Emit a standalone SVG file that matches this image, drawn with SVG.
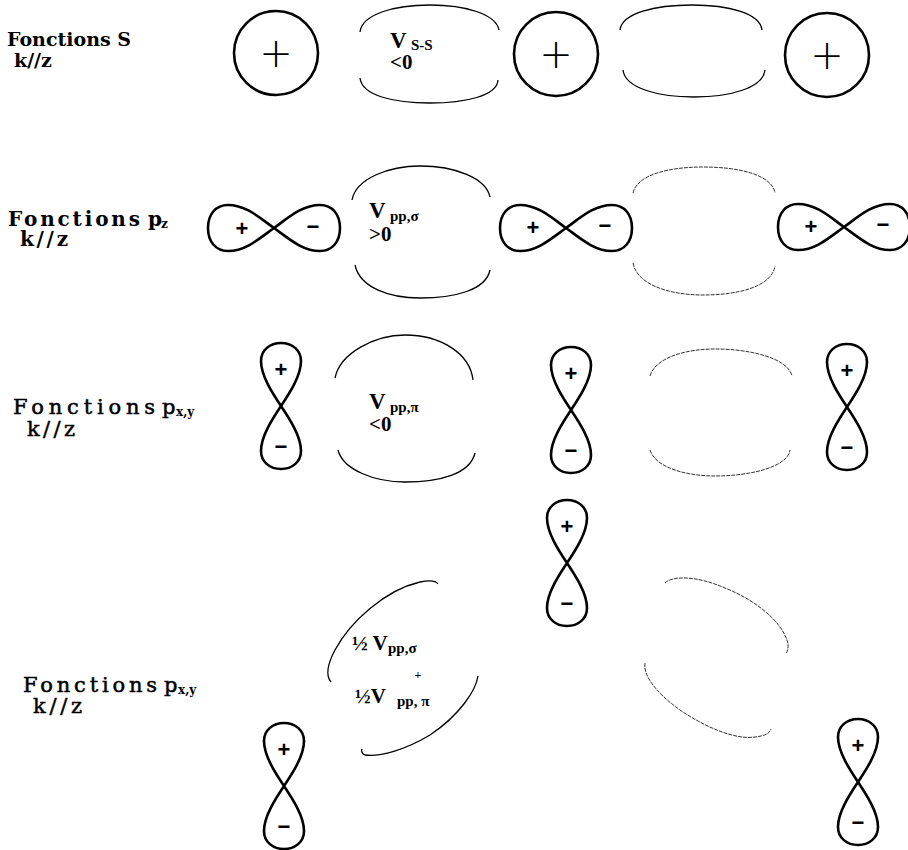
<svg xmlns="http://www.w3.org/2000/svg" xmlns:xlink="http://www.w3.org/1999/xlink" width="908" height="850" viewBox="0 0 908 850">
<style>
.lbl{font-family:"DejaVu Serif","Liberation Serif",serif;font-weight:bold;fill:#000}
.lblr{font-family:"DejaVu Serif","Liberation Serif",serif;font-weight:normal;fill:#000;stroke:#000;stroke-width:0.5}
.v{font-family:"Liberation Serif","Times New Roman",serif;font-weight:bold;fill:#000}
.orb{fill:none;stroke:#000;stroke-width:2.6}
.arc{fill:none;stroke:#000;stroke-width:1.3}
.arcd{fill:none;stroke:#333;stroke-width:1;stroke-dasharray:4 1}
.sgn{font-family:"Liberation Sans",Arial,sans-serif;font-weight:bold;font-size:22px;fill:#000;text-anchor:middle}
.big{font-family:"DejaVu Sans","Liberation Sans",sans-serif;font-weight:300;font-size:40px;fill:#000;text-anchor:middle}
</style>
<defs>
<path id="h8" d="M0,0 C-14,-10 -28,-23 -46,-23 C-58,-23 -66,-14 -66,0 C-66,14 -58,23 -46,23 C-28,23 -14,10 0,0 C14,-10 28,-23 46,-23 C58,-23 66,-14 66,0 C66,14 58,23 46,23 C28,23 14,10 0,0 Z"/>
<path id="v8" d="M0,0 C-8,-12 -20,-30 -20,-45 C-20,-56 -11,-63 0,-63 C11,-63 20,-56 20,-45 C20,-30 8,-12 0,0 C-8,12 -20,30 -20,45 C-20,56 -11,63 0,63 C11,63 20,56 20,45 C20,30 8,12 0,0 Z"/>
</defs>

<g id="label-s">
<text class="lbl" x="7" y="46" font-size="19">Fonctions S</text>
<text class="lbl" x="14" y="67" font-size="19">k//z</text>
</g>
<g id="label-pz">
<text class="lbl" x="8" y="226" font-size="20" textLength="132" lengthAdjust="spacing">Fonctions</text>
<text class="lbl" x="148" y="226" font-size="20">p</text>
<text class="lbl" x="161" y="228" font-size="12">z</text>
<text class="lbl" x="20" y="246" font-size="20" textLength="48" lengthAdjust="spacing">k//z</text>
</g>
<g id="label-pxy1">
<text class="lblr" x="13" y="414" font-size="21" textLength="142" lengthAdjust="spacing">Fonctions</text>
<text class="lblr" x="162" y="414" font-size="21">p</text>
<text class="lbl" x="176" y="416" font-size="12">x,y</text>
<text class="lblr" x="27" y="436" font-size="21" textLength="48" lengthAdjust="spacing">k//z</text>
</g>
<g id="label-pxy2">
<text class="lblr" x="23" y="692" font-size="21" textLength="134" lengthAdjust="spacing">Fonctions</text>
<text class="lblr" x="164" y="692" font-size="21">p</text>
<text class="lbl" x="178" y="694" font-size="12">x,y</text>
<text class="lblr" x="33" y="713" font-size="21" textLength="49" lengthAdjust="spacing">k//z</text>
</g>

<!-- Row 1: s orbitals -->
<g id="s1"><circle class="orb" cx="276" cy="53" r="42"/><text class="big" x="276" y="67">+</text></g>
<g id="s2"><circle class="orb" cx="556" cy="54" r="42"/><text class="big" x="556" y="68">+</text></g>
<g id="s3"><circle class="orb" cx="827" cy="55" r="42"/><text class="big" x="827" y="69">+</text></g>
<g id="ov-s1">
<path class="arc" d="M360,32 C362,14 395,5 430,5 C465,5 496,14 499,30"/>
<path class="arc" d="M360,78 C362,96 395,103 430,103 C465,103 497,96 498,80"/>
<text class="v" x="390" y="48" font-size="23">V</text>
<text class="v" x="411" y="50" font-size="15">S-S</text>
<text class="v" x="390" y="69" font-size="21">&lt;0</text>
</g>
<g id="ov-s2">
<path class="arc" d="M620,30 C622,13 655,5 692,5 C728,5 760,13 762,30"/>
<path class="arc" d="M623,70 C625,88 658,97 694,97 C730,97 763,88 765,70"/>
</g>

<!-- Row 2: pz orbitals -->
<g id="pz1"><use xlink:href="#h8" class="orb" transform="translate(274,228)"/><text class="sgn" x="242" y="236">+</text><text class="sgn" x="313" y="234">−</text></g>
<g id="pz2"><use xlink:href="#h8" class="orb" transform="translate(566,228)"/><text class="sgn" x="533" y="235">+</text><text class="sgn" x="605" y="233">−</text></g>
<g id="pz3"><use xlink:href="#h8" class="orb" transform="translate(844,227)"/><text class="sgn" x="811" y="234">+</text><text class="sgn" x="883" y="232">−</text></g>
<g id="ov-pz1">
<path class="arc" d="M352,200 C356,178 390,166 420,166 C455,166 486,178 490,197"/>
<path class="arc" d="M355,265 C360,288 390,298 420,298 C455,298 486,290 490,270"/>
<text class="v" x="369" y="218" font-size="23">V</text>
<text class="v" x="390" y="221" font-size="15">pp,σ</text>
<text class="v" x="369" y="241" font-size="21">&gt;0</text>
</g>
<g id="ov-pz2">
<path class="arcd" d="M633,193 C637,175 668,167 703,167 C740,167 772,175 775,193"/>
<path class="arcd" d="M633,263 C637,285 670,295 703,295 C740,295 772,286 775,266"/>
</g>

<!-- Row 3: px,y orbitals -->
<g id="pxy1"><use xlink:href="#v8" class="orb" transform="translate(281,406)"/><text class="sgn" x="281" y="377">+</text><text class="sgn" x="281" y="454">−</text></g>
<g id="pxy2"><use xlink:href="#v8" class="orb" transform="translate(571,410)"/><text class="sgn" x="571" y="381">+</text><text class="sgn" x="571" y="458">−</text></g>
<g id="pxy3"><use xlink:href="#v8" class="orb" transform="translate(847,407)"/><text class="sgn" x="847" y="378">+</text><text class="sgn" x="847" y="455">−</text></g>
<g id="ov-pxy1">
<path class="arc" d="M335,378 C340,353 375,335 405,335 C440,335 470,353 473,380"/>
<path class="arc" d="M338,450 C343,470 375,482 405,482 C440,482 470,474 475,453"/>
<text class="v" x="369" y="409" font-size="23">V</text>
<text class="v" x="390" y="412" font-size="15">pp,π</text>
<text class="v" x="369" y="431" font-size="21">&lt;0</text>
</g>
<g id="ov-pxy2">
<path class="arcd" d="M650,376 C655,358 685,349 715,349 C750,349 788,358 792,376"/>
<path class="arcd" d="M650,450 C655,467 685,476 715,476 C750,476 788,467 790,450"/>
</g>

<!-- Row 4: tilted px,y -->
<g id="pxy4"><use xlink:href="#v8" class="orb" transform="translate(567,563)"/><text class="sgn" x="567" y="534">+</text><text class="sgn" x="567" y="611">−</text></g>
<g id="pxy5"><use xlink:href="#v8" class="orb" transform="translate(284,786)"/><text class="sgn" x="284" y="757">+</text><text class="sgn" x="284" y="834">−</text></g>
<g id="pxy6"><use xlink:href="#v8" class="orb" transform="translate(858,782)"/><text class="sgn" x="858" y="753">+</text><text class="sgn" x="858" y="830">−</text></g>
<g id="ov-pxy3">
<path class="arc" d="M331,682 C326,676 327,665 335,650 C350,622 385,590 420,582 C430,580 436,581 438,584"/>
<path class="arc" d="M478,676 C476,690 460,715 430,735 C405,750 380,757 365,755 C362,754 361,751 362,749"/>
<text class="v" x="352" y="650" font-size="21">½ V</text>
<text class="v" x="388" y="653" font-size="15">pp,σ</text>
<text class="v" x="418" y="679" font-size="12" text-anchor="middle">+</text>
<text class="v" x="355" y="703" font-size="21">½V</text>
<text class="v" x="397" y="706" font-size="15">pp, π</text>
</g>
<g id="ov-pxy4">
<path class="arcd" d="M665,583 C672,576 695,575 725,588 C755,600 780,620 787,640 C789,646 788,650 786,654"/>
<path class="arcd" d="M645,663 C643,675 655,692 680,710 C705,727 735,740 755,737 C765,736 770,733 771,729"/>
</g>

<g id="connectors"/>
</svg>
